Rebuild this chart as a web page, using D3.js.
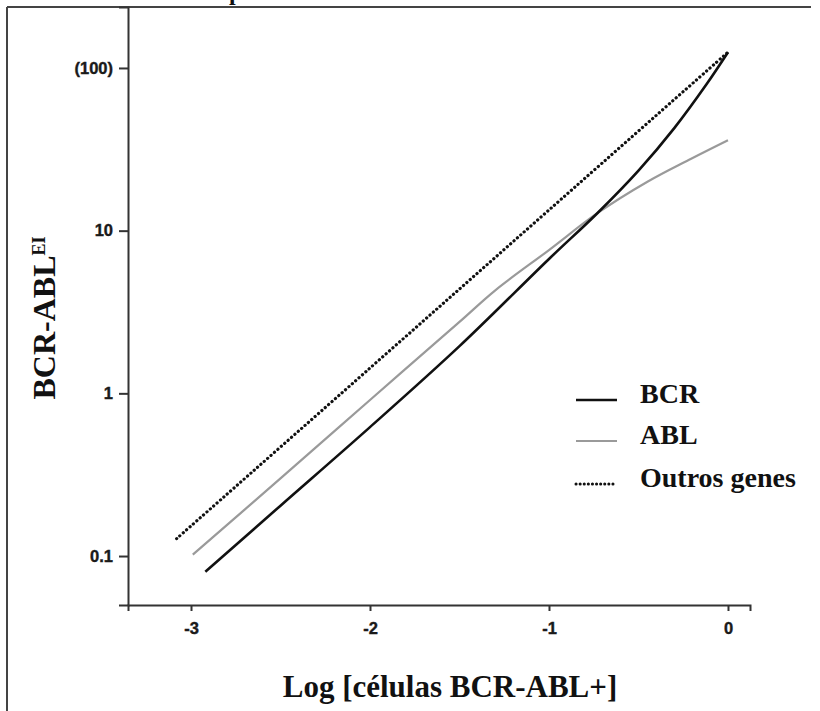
<!DOCTYPE html>
<meta charset="utf-8">
<style>
body { margin: 0; background: #fff; }
svg { display: block; }
.axis path, .axis line { stroke: #333; stroke-width: 2; }
.title { font-family: 'Liberation Serif', 'Times New Roman', serif; font-weight: bold; fill: #111; }
</style>
<svg id="chart" width="820" height="711"></svg>
<script src="https://cdn.jsdelivr.net/npm/d3@7"></script>
<script>

// values (x = log cells, y = BCR-ABL EI)
var xTicks = [-3, -2, -1, 0];
var yTicks = [0.1, 1, 10, 100];

var bcrX = [-2.92, -2.5, -2, -1.5, -1, -0.73, -0.5, -0.3, -0.12, 0];
var bcrY = [0.08, 0.204, 0.62, 1.95, 6.7, 12.8, 23.4, 42.7, 79.4, 125];

var ablX = [-2.99, -2.5, -2, -1.5, -1.3, -1, -0.73, -0.45, -0.22, 0];
var ablY = [0.102, 0.30, 0.91, 2.75, 4.3, 7.6, 12.8, 20.0, 27.2, 36];

var outX = [-3.08, -2, -1, 0];
var outY = [0.128, 1.43, 13.4, 125];

var legendLabels = ["BCR", "ABL", "Outros genes"];

var svg = d3.select("#chart");

// frame of the page cell
svg.append("line").attr("x1", 7).attr("y1", 7).attr("x2", 811).attr("y2", 7)
    .attr("stroke", "#444").attr("stroke-width", 2);
svg.append("line").attr("x1", 7).attr("y1", 7).attr("x2", 7).attr("y2", 711)
    .attr("stroke", "#444").attr("stroke-width", 2);
svg.append("text").attr("class", "title").attr("x", 229).attr("y", -0.5)
    .style("font-size", "24px").text("p");

var x = d3.scaleLinear()
    .domain([-3.352, 0.123])
    .range([128, 750]);

var y = d3.scaleLog()
    .domain([0.05, 237])
    .range([605, 7]);

svg.append("g")
    .attr("class", "axis")
    .attr("transform", "translate(0,605)")
    .call(d3.axisBottom(x).tickValues(xTicks).tickSizeOuter(0).tickSize(6).tickPadding(11)
      .tickFormat(function(d) { return d < 0 ? "-" + Math.abs(d) : d; }));

svg.append("g")
    .attr("class", "axis")
    .attr("transform", "translate(128,0)")
    .call(d3.axisLeft(y).tickValues(yTicks).tickSizeOuter(0).tickSize(9).tickPadding(6)
      .tickFormat(function(d) { return d == 100 ? "(100)" : d; }));

svg.selectAll(".axis .tick text")
    .style("font-family", "'Liberation Sans', Arial, sans-serif")
    .style("font-weight", "bold")
    .style("font-size", "16.5px")
    .attr("fill", "#1a1a1a")
    .attr("stroke", "#1a1a1a")
    .attr("stroke-width", 0.4);

var line = d3.line()
    .x(function(d) { return x(d[0]); })
    .y(function(d) { return y(d[1]); })
    .curve(d3.curveCatmullRom.alpha(0.5));

svg.append("path")
    .datum(d3.zip(ablX, ablY))
    .attr("fill", "none")
    .attr("stroke", "#9a9a9a")
    .attr("stroke-width", 2.2)
    .attr("d", line);

svg.append("path")
    .datum(d3.zip(bcrX, bcrY))
    .attr("fill", "none")
    .attr("stroke", "#111")
    .attr("stroke-width", 2.6)
    .attr("d", line);

svg.append("path")
    .datum(d3.zip(outX, outY))
    .attr("fill", "none")
    .attr("stroke", "#111")
    .attr("stroke-width", 3.2)
    .attr("stroke-linecap", "round")
    .attr("stroke-dasharray", "0.1 4.4")
    .attr("d", line);

// axis titles
svg.append("text")
    .attr("class", "title")
    .attr("x", 450).attr("y", 697)
    .attr("text-anchor", "middle")
    .style("font-size", "31px")
    .text("Log [células BCR-ABL+]");

var yTitle = svg.append("text")
    .attr("class", "title")
    .attr("transform", "translate(55,318) rotate(-90)")
    .attr("text-anchor", "middle")
    .style("font-size", "32px");
yTitle.append("tspan").text("BCR-ABL");
yTitle.append("tspan").attr("dy", -10).style("font-size", "18px").text("EI");

// legend
var legendY = [400, 441, 484];
var legendStyle = [
  {stroke: "#111", width: 2.6, dash: null},
  {stroke: "#9a9a9a", width: 2.2, dash: null},
  {stroke: "#111", width: 3, dash: "0.1 4"}
];

var legend = svg.selectAll(".legend")
    .data(legendLabels)
  .enter().append("g")
    .attr("class", "legend")
    .attr("transform", function(d, i) { return "translate(0," + legendY[i] + ")"; });

legend.append("line")
    .attr("x1", 576).attr("x2", 617)
    .attr("stroke", function(d, i) { return legendStyle[i].stroke; })
    .attr("stroke-width", function(d, i) { return legendStyle[i].width; })
    .attr("stroke-linecap", function(d, i) { return legendStyle[i].dash ? "round" : "butt"; })
    .attr("stroke-dasharray", function(d, i) { return legendStyle[i].dash; });

legend.append("text")
    .attr("class", "title")
    .attr("x", 640).attr("y", 3)
    .style("font-size", "28px")
    .text(function(d) { return d; });

</script>
